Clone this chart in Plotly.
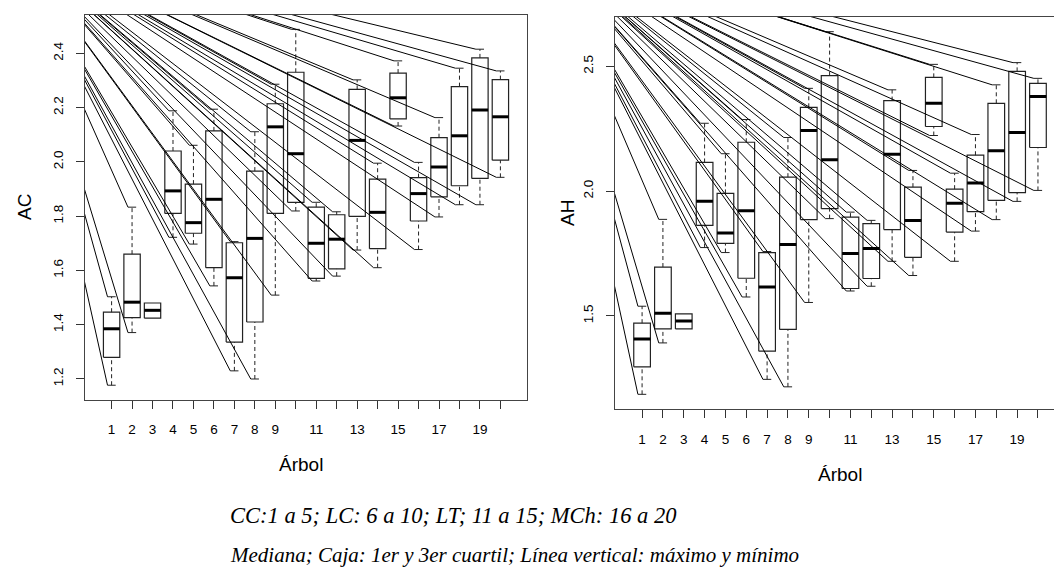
import plotly.graph_objects as go

# ---------------- data ----------------
trees = list(range(1, 21))
x_ticktext = ["1", "2", "3", "4", "5", "6", "7", "8", "9", "", "11", "", "13", "", "15", "", "17", "", "19", ""]

ac_min = [1.177, 1.371, 1.424, 1.722, 1.697, 1.543, 1.230, 1.200, 1.509, 1.819, 1.561, 1.579, 1.675, 1.610, 2.132, 1.677, 1.797, 1.842, 1.842, 1.943]
ac_q1 = [1.280, 1.426, 1.424, 1.810, 1.737, 1.610, 1.336, 1.410, 1.810, 1.851, 1.571, 1.606, 1.799, 1.680, 2.158, 1.782, 1.871, 1.912, 1.939, 2.006]
ac_med = [1.385, 1.483, 1.453, 1.893, 1.776, 1.862, 1.573, 1.718, 2.129, 2.030, 1.700, 1.715, 2.079, 1.814, 2.236, 1.883, 1.981, 2.096, 2.191, 2.166]
ac_q3 = [1.446, 1.660, 1.480, 2.040, 1.918, 2.114, 1.702, 1.966, 2.214, 2.330, 1.833, 1.805, 2.267, 1.936, 2.327, 1.942, 2.089, 2.277, 2.383, 2.303]
ac_max = [1.503, 1.833, 1.480, 2.188, 2.061, 2.194, 1.706, 2.111, 2.286, 2.488, 1.851, 1.816, 2.302, 1.995, 2.372, 1.998, 2.163, 2.345, 2.415, 2.335]

ah_min = [1.186, 1.392, 1.448, 1.774, 1.754, 1.576, 1.246, 1.216, 1.554, 1.890, 1.600, 1.619, 1.719, 1.662, 2.223, 1.719, 1.840, 1.886, 1.959, 2.003]
ah_q1 = [1.296, 1.448, 1.448, 1.863, 1.791, 1.651, 1.359, 1.446, 1.886, 1.930, 1.610, 1.650, 1.846, 1.735, 2.259, 1.836, 1.918, 1.963, 1.994, 2.175]
ah_med = [1.408, 1.511, 1.480, 1.960, 1.832, 1.922, 1.616, 1.786, 2.243, 2.126, 1.750, 1.770, 2.148, 1.882, 2.352, 1.952, 2.033, 2.162, 2.235, 2.379]
ah_q3 = [1.471, 1.696, 1.508, 2.115, 1.991, 2.196, 1.754, 2.056, 2.336, 2.463, 1.896, 1.870, 2.363, 2.016, 2.456, 2.008, 2.144, 2.352, 2.480, 2.432]
ah_max = [1.539, 1.887, 1.508, 2.272, 2.150, 2.287, 1.758, 2.215, 2.412, 2.639, 1.916, 1.883, 2.406, 2.083, 2.508, 2.072, 2.227, 2.426, 2.515, 2.452]

ac_yticks = [1.2, 1.4, 1.6, 1.8, 2.0, 2.2, 2.4]
ac_yticktext = ["1.2", "1.4", "1.6", "1.8", "2.0", "2.2", "2.4"]
ah_yticks = [1.5, 2.0, 2.5]
ah_yticktext = ["1.5", "2.0", "2.5"]

caption1 = "CC:1 a 5; LC: 6 a 10; LT; 11 a 15; MCh: 16 a 20"
caption2 = "Mediana; Caja: 1er y 3er cuartil; Línea vertical: máximo y mínimo"

# ---------------- style ----------------
BOXW = 0.4      # half box width (tree units)
CAPW = 0.2      # half cap width
LINE = "#222222"
FONT = "Liberation Sans, Arial, sans-serif"

fig = go.Figure()


def add_panel(xa, ya, mn, q1, md, q3, mx, origin):
    bx, by = [], []
    mxs, mys = [], []
    wx, wy = [], []
    cx, cy = [], []
    lx, ly = [], []
    for t, a, b, c, d, e in zip(trees, mn, q1, md, q3, mx):
        bx += [t - BOXW, t + BOXW, t + BOXW, t - BOXW, t - BOXW, None]
        by += [b, b, d, d, b, None]
        mxs += [t - BOXW, t + BOXW, None]
        mys += [c, c, None]
        if e > d:
            wx += [t, t, None]
            wy += [d, e, None]
            cx += [t - CAPW, t + CAPW, None]
            cy += [e, e, None]
            lx += [origin[0], t - CAPW, None]
            ly += [origin[1], e, None]
        if a < b:
            wx += [t, t, None]
            wy += [a, b, None]
            cx += [t - CAPW, t + CAPW, None]
            cy += [a, a, None]
            lx += [origin[0], t - CAPW, None]
            ly += [origin[1], a, None]
    common = dict(xaxis=xa, yaxis=ya, mode="lines", hoverinfo="skip", showlegend=False)
    fig.add_trace(go.Scatter(x=wx, y=wy, line=dict(color=LINE, width=1, dash="4px,3px"), **common))
    fig.add_trace(go.Scatter(x=cx, y=cy, line=dict(color=LINE, width=1), **common))
    fig.add_trace(go.Scatter(x=bx, y=by, line=dict(color=LINE, width=1.2), **common))
    fig.add_trace(go.Scatter(x=mxs, y=mys, line=dict(color="black", width=3), **common))
    fig.add_trace(go.Scatter(x=lx, y=ly, line=dict(color="black", width=1), **common))


add_panel("x", "y", ac_min, ac_q1, ac_med, ac_q3, ac_max, (-4.08, 2.831))
add_panel("x2", "y2", ah_min, ah_q1, ah_med, ah_q3, ah_max, (-3.90, 3.0))

W, H = 1054, 572

xcommon = dict(tickmode="array", tickvals=trees, ticktext=x_ticktext, ticks="outside", ticklen=8,
               tickwidth=1, tickcolor="#333", showline=True, linecolor="#444", linewidth=1,
               mirror=True, showgrid=False, zeroline=False, ticklabelstandoff=9,
               tickfont=dict(family=FONT, size=13.5, color="black"))
ycommon = dict(tickmode="array", ticks="outside", ticklen=8, tickwidth=1, tickcolor="#333",
               showline=True, linecolor="#444", linewidth=1, showgrid=False, zeroline=False,
               tickangle=-90, ticklabelstandoff=8,
               tickfont=dict(family=FONT, size=13.5, color="black"))

fig.update_layout(
    width=W, height=H,
    margin=dict(l=0, r=0, t=0, b=0),
    paper_bgcolor="white", plot_bgcolor="white",
    xaxis=dict(domain=[85 / W, 527 / W], range=[-0.3, 21.3], anchor="y", **xcommon),
    yaxis=dict(domain=[1 - 400 / H, 1 - 15 / H], range=[1.1226, 2.541], anchor="x",
               tickvals=ac_yticks, ticktext=ac_yticktext, mirror=True, **ycommon),
    xaxis2=dict(domain=[615 / W, 1.0], range=[-0.3, 20.77], anchor="y2", **xcommon),
    yaxis2=dict(domain=[1 - 409.3 / H, 1 - 16.7 / H], range=[1.126, 2.699], anchor="x2",
                tickvals=ah_yticks, ticktext=ah_yticktext, mirror=False, **ycommon),
)

ann = []
ann.append(dict(text="AC", x=24 / W, y=1 - 207 / H, textangle=-90))
ann.append(dict(text="AH", x=567 / W, y=1 - 213 / H, textangle=-90))
ann.append(dict(text="Árbol", x=301 / W, y=1 - 464 / H))
ann.append(dict(text="Árbol", x=840 / W, y=1 - 474 / H))
for a in ann:
    fig.add_annotation(xref="paper", yref="paper", showarrow=False, xanchor="center", yanchor="middle",
                       font=dict(family=FONT, size=19, color="black"), **a)

for txt, yy, fs in [(caption1, 515, 22.5), (caption2, 555, 21)]:
    fig.add_annotation(text="<i>" + txt + "</i>", xref="paper", yref="paper", x=228 / W, y=1 - yy / H,
                       xanchor="left", yanchor="middle", showarrow=False,
                       font=dict(family="Liberation Serif, Times New Roman, serif", size=fs, color="black"))

fig.write_html("out.html")
